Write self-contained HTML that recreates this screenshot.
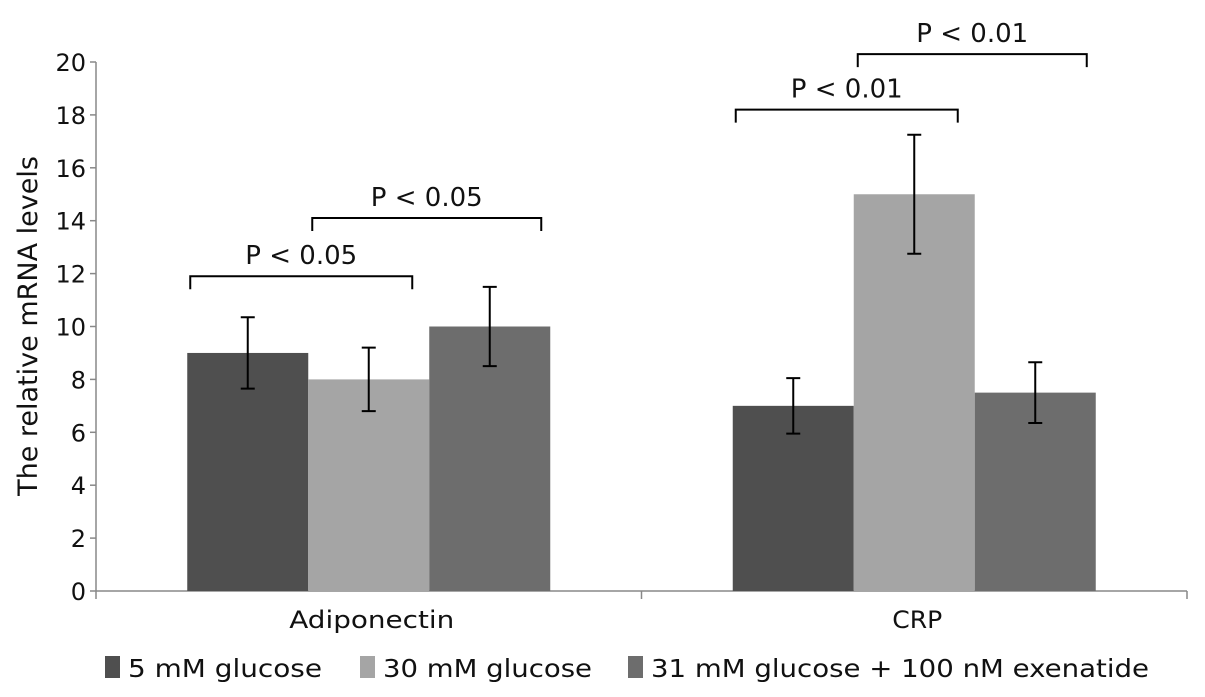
<!DOCTYPE html>
<html><head><meta charset="utf-8"><style>
body{margin:0;background:#fff}
svg{display:block;font-family:"DejaVu Sans","Liberation Sans",sans-serif}
</style></head><body>
<svg id="chart" width="1205" height="697">
<g id="axes"></g><g id="bars"></g><g id="ann"></g><g id="legend"></g>
</svg>
<script>
const categories=["Adiponectin","CRP"];
const seriesNames=["5 mM glucose","30 mM glucose","31 mM glucose + 100 nM exenatide"];
const s5=[9,7];
const s30=[8,15];
const s31=[10,7.5];
const err5=[1.35,1.05];
const err30=[1.2,2.25];
const err31=[1.5,1.15];
const yTicks=[0,2,4,6,8,10,12,14,16,18,20];
const sigLabels=["P < 0.05","P < 0.05","P < 0.01","P < 0.01"];
const colors=["#4f4f4f","#a5a5a5","#6d6d6d"];
const NS="http://www.w3.org/2000/svg";
const x0=96,x1=1187,y0=591,yTop=62;
const y=v=>y0-(v/20)*(y0-yTop);
const groupW=(x1-x0)/categories.length;
const barW=121;
const bx=(c,s)=>x0+groupW*c+groupW/2-1.5*barW+s*barW;
function mk(tag,attrs,parent){const e=document.createElementNS(NS,tag);for(const k in attrs)e.setAttribute(k,attrs[k]);parent.appendChild(e);return e;}
const axes=document.getElementById('axes'),bars=document.getElementById('bars'),ann=document.getElementById('ann'),leg=document.getElementById('legend');
let a=mk('line',{x1:x0,y1:yTop,x2:x0,y2:y0,stroke:'#888','stroke-width':1.5},axes);

a=mk('line',{x1:x0,y1:y0,x2:x1,y2:y0,stroke:'#888','stroke-width':1.5},axes);

yTicks.forEach(t=>{
 const l=mk('line',{x1:x0-6,y1:y(t),x2:x0,y2:y(t),stroke:'#888','stroke-width':1.5},axes);
 
 const tx=mk('text',{x:x0-10,y:y(t)+9,'text-anchor':'end','font-size':24,fill:'#111'},axes);tx.textContent=t;
 
});
for(let i=0;i<=categories.length;i++){const xx=x0+groupW*i;
 const l=mk('line',{x1:xx,y1:y0,x2:xx,y2:y0+8,stroke:'#888','stroke-width':1.5},axes);
 }
const catW=[165,50];
categories.forEach((c,i)=>{const t=mk('text',{x:x0+groupW*i+groupW/2-catW[i]/2+3,y:628,'font-size':24,fill:'#111',textLength:catW[i],lengthAdjust:'spacingAndGlyphs'},axes);t.textContent=c;
 });
const yt=mk('text',{x:0,y:0,transform:'translate(37,326) rotate(-90)','text-anchor':'middle','font-size':27,fill:'#111'},axes);
yt.textContent='The relative mRNA levels';

const series=[s5,s30,s31],errs=[err5,err30,err31];
series.forEach((s,si)=>s.forEach((v,ci)=>{
 const r=mk('rect',{x:bx(ci,si),y:y(v),width:barW,height:y0-y(v),fill:colors[si]},bars);
 
 const cx=bx(ci,si)+barW/2,e=errs[si][ci];
 const g=mk('path',{d:`M${cx},${y(v+e)}V${y(v-e)}M${cx-7},${y(v+e)}H${cx+7}M${cx-7},${y(v-e)}H${cx+7}`,stroke:'#000','stroke-width':2,fill:'none'},bars);
 
}));
// significance brackets: [category, from series, to series, level value]
const brackets=[[0,0,1,11.9],[0,1,2,14.1],[1,0,1,18.2],[1,1,2,20.3]];
brackets.forEach((b,i)=>{
 const xs=b[1]==0?bx(b[0],0)+3:bx(b[0],1)+4;
 const xb=b[2]==1?bx(b[0],1)+barW-17:bx(b[0],2)+barW-9;
 const yy=y(b[3]);
 const p=mk('path',{d:`M${xs},${yy+13}V${yy}H${xb}V${yy+13}`,stroke:'#000','stroke-width':2,fill:'none'},ann);
 
 const t=mk('text',{x:(xs+xb)/2,y:yy-12,'text-anchor':'middle','font-size':26,fill:'#111'},ann);t.textContent=sigLabels[i];
 
});
const lx=[105,360,628];
const lw=[194,209,498];
seriesNames.forEach((n,i)=>{
 const r=mk('rect',{x:lx[i],y:656,width:15,height:22,fill:colors[i]},leg);
 
 const t=mk('text',{x:lx[i]+23,y:677,'font-size':25,fill:'#111',textLength:lw[i],lengthAdjust:'spacingAndGlyphs'},leg);t.textContent=n;
 
});
</script>
</body></html>
